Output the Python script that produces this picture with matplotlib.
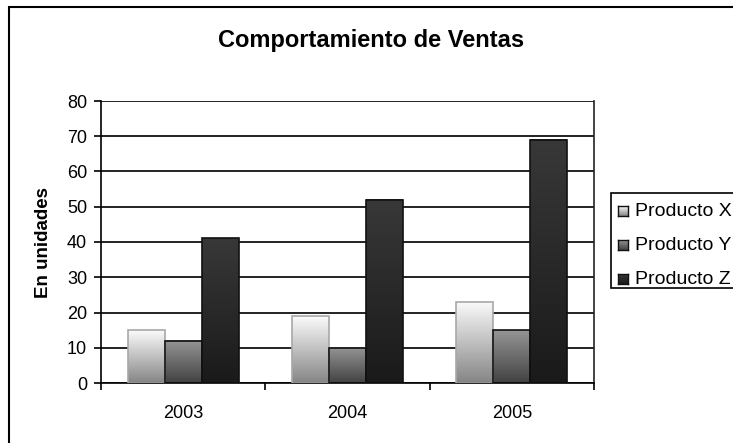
import matplotlib
matplotlib.use("Agg")
import matplotlib.pyplot as plt
import numpy as np
from matplotlib.patches import Rectangle
from matplotlib.colors import LinearSegmentedColormap

plt.rcParams['font.family'] = ['Liberation Sans', 'DejaVu Sans']

years = ["2003", "2004", "2005"]
series_names = ["Producto X", "Producto Y", "Producto Z"]
producto_x = [15, 19, 23]
producto_y = [12, 10, 15]
producto_z = [41, 52, 69]
values = [producto_x, producto_y, producto_z]

grads = [("#fbfbfb", "#858585"), ("#959595", "#424242"), ("#383838", "#1a1a1a")]
edges = ["#a8a8a8", "#111111", "#111111"]

W, H = 733, 443
fig = plt.figure(figsize=(W / 100, H / 100), dpi=100)

# chart area border
fig.patches.append(Rectangle((9 / W, -0.05), 1.2, 1 - 7 / H + 0.05, transform=fig.transFigure,
                             fill=False, edgecolor="black", linewidth=1.5, zorder=0))

ax = fig.add_axes([101 / W, 1 - 383 / H, (594 - 101) / W, (383 - 101) / H])
x = np.arange(len(years))
width = 0.225
offsets = [-width, 0, width]

for i, vals in enumerate(values):
    bars = ax.bar(x + offsets[i], vals, width, facecolor="none", edgecolor=edges[i],
                  linewidth=1.2, zorder=3)
    cmap = LinearSegmentedColormap.from_list("g%d" % i, [grads[i][1], grads[i][0]])
    grad = np.linspace(0, 1, 256).reshape(-1, 1)
    for b in bars:
        x0 = b.get_x()
        ax.imshow(grad, extent=[x0, x0 + b.get_width(), 0, b.get_height()], origin="lower",
                  aspect="auto", cmap=cmap, zorder=2)

ax.set_xlim(-0.5, 2.5)
ax.set_ylim(0, 80)
ax.set_yticks(range(0, 81, 10))
ax.set_xticks(x)
ax.set_xticklabels(years, fontsize=13)
ax.set_xticks([-0.5, 0.5, 1.5, 2.5], minor=True)
ax.tick_params(axis="x", which="major", length=0, pad=16)
ax.tick_params(axis="x", which="minor", length=5, width=1.2, direction="out")
ax.tick_params(axis="y", length=5, width=1.2, direction="out", labelsize=13, pad=5)
ax.yaxis.grid(True, color="#111111", linewidth=1.3, zorder=1)
ax.set_axisbelow(True)
ax.spines["top"].set_visible(False)
ax.spines["left"].set_linewidth(1.2)
ax.spines["bottom"].set_linewidth(1.2)
ax.spines["right"].set_linewidth(1.2)
ax.spines["right"].set_color("#222222")

fig.text(43 / W, 1 - 242 / H, "En unidades", ha="center", va="center", rotation=90,
         fontsize=13.5, fontweight="bold")
fig.text(371 / W, 1 - 47 / H, "Comportamiento de Ventas", ha="center", va="baseline",
         fontsize=17, fontweight="bold")

# legend
fig.patches.append(Rectangle((611 / W, 1 - 288 / H), 0.3, (288 - 193) / H, transform=fig.transFigure,
                             fill=True, facecolor="white", edgecolor="black", linewidth=1.2, zorder=5))
rows = [211, 245, 279]
for i, name in enumerate(series_names):
    yc = rows[i]
    max_ = fig.add_axes([618 / W, 1 - (yc + 5) / H, 10 / W, 10 / H], zorder=6)
    cmap = LinearSegmentedColormap.from_list("l%d" % i, [grads[i][1], grads[i][0]])
    max_.imshow(np.linspace(0, 1, 64).reshape(-1, 1), origin="lower", aspect="auto", cmap=cmap)
    max_.set_xticks([]); max_.set_yticks([])
    for sp in max_.spines.values():
        sp.set_color("#111111"); sp.set_linewidth(1)
    fig.text(635 / W, 1 - yc / H, name, ha="left", va="center", fontsize=14, zorder=7)

fig.savefig("out.png", dpi=100)
